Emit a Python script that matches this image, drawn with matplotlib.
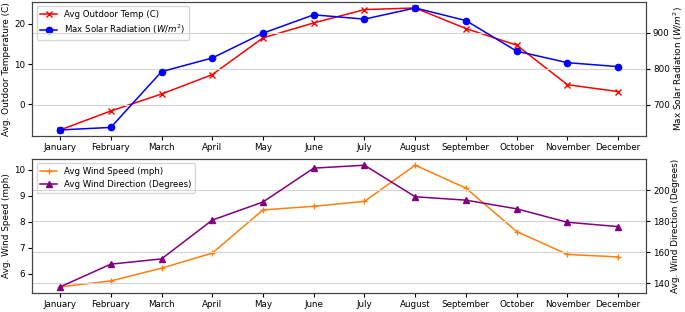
import matplotlib
matplotlib.use('Agg')
import matplotlib.pyplot as plt

months = ['January', 'February', 'March', 'April', 'May', 'June', 'July',
          'August', 'September', 'October', 'November', 'December']

# top panel
temp = [-6.3, -1.6, 2.6, 7.4, 16.5, 20.2, 23.5, 23.9, 18.8, 14.7, 4.9, 3.2]
solar = [630, 637, 792, 830, 899, 950, 938, 969, 934, 849, 817, 806]

# bottom panel
wind_speed = [5.5, 5.73, 6.22, 6.8, 8.46, 8.6, 8.79, 10.18, 9.3, 7.63, 6.75, 6.65]
wind_dir = [137.6, 152.3, 155.7, 180.8, 192.5, 214.4, 216.3, 195.9, 193.7, 188.1, 179.4, 176.6]

fs = 6.3
lfs = 6.4
fig = plt.figure(figsize=(6.85, 3.12), dpi=100)
ax1 = fig.add_axes([0.047, 0.564, 0.896, 0.43])
ax3 = fig.add_axes([0.047, 0.061, 0.896, 0.429])

x = range(len(months))

# temperatura + slunce
l1, = ax1.plot(x, temp, color='red', marker='x', markersize=4, linewidth=1.1,
               label='Avg Outdoor Temp (C)')
ax2 = ax1.twinx()
l2, = ax2.plot(x, solar, color='blue', marker='o', markersize=4.5, linewidth=1.1,
               label='Max Solar Radiation ($W/m^2$)')
ax2.grid(True, axis='y', color='lightgray', linewidth=0.8)
ax1.set_ylabel('Avg. Outdoor Temperature (C)', fontsize=lfs, labelpad=2)
ax2.set_ylabel('Max Solar Radiation ($W/m^2$)', fontsize=lfs, labelpad=1)
ax1.set_xticks(list(x))
ax1.set_xticklabels(months)
ax1.set_yticks([0, 10, 20])
ax2.set_yticks([700, 800, 900])
ax1.legend(handles=[l1, l2], loc='upper left', fontsize=6.2)

# vitr
l3, = ax3.plot(x, wind_speed, color='tab:orange', marker='+', markersize=4,
               linewidth=1.1, label='Avg Wind Speed (mph)')
ax4 = ax3.twinx()
l4, = ax4.plot(x, wind_dir, color='purple', marker='^', markersize=4,
               linewidth=1.1, label='Avg Wind Direction (Degrees)')
ax4.grid(True, axis='y', color='lightgray', linewidth=0.8)
ax3.set_ylabel('Avg. Wind Speed (mph)', fontsize=lfs, labelpad=2)
ax4.set_ylabel('Avg. Wind Direction (Degrees)', fontsize=lfs, labelpad=1)
ax3.set_xticks(list(x))
ax3.set_xticklabels(months)
ax3.set_yticks([6, 7, 8, 9, 10])
ax4.set_yticks([140, 160, 180, 200])
ax3.legend(handles=[l3, l4], loc='upper left', fontsize=6.2)

for ax in (ax1, ax2, ax3, ax4):
    ax.tick_params(labelsize=fs, length=3, pad=2)
    for s in ax.spines.values():
        s.set_color('#444444')

fig.savefig('out.png', dpi=100)
